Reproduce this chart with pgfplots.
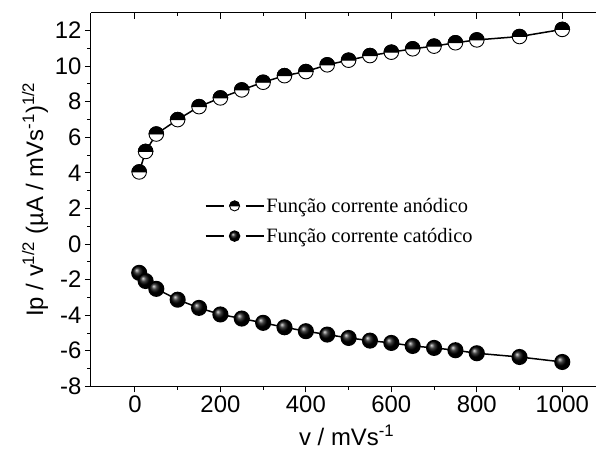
\documentclass[border=0pt]{standalone}
\usepackage{fontspec}
\setmainfont{Liberation Sans}
\newfontfamily\timesfont{Liberation Serif}
\usepackage{pgfplots}
\pgfplotsset{compat=1.18}
\usetikzlibrary{plotmarks}

\pgfdeclareplotmark{halftop}{%
  \pgfpathcircle{\pgfpointorigin}{\pgfplotmarksize}%
  \pgfsetfillcolor{white}\pgfusepathqfillstroke
  \pgfpathmoveto{\pgfqpoint{\pgfplotmarksize}{0pt}}%
  \pgfpatharc{0}{180}{\pgfplotmarksize}%
  \pgfpathclose
  \pgfsetfillcolor{black}\pgfusepathqfillstroke}

\pgfplotstableread{
x y
10 4.05
25 5.20
50 6.18
100 6.99
150 7.72
200 8.21
250 8.66
300 9.09
350 9.46
400 9.69
450 10.07
500 10.33
550 10.59
600 10.78
650 10.97
700 11.12
750 11.31
800 11.47
900 11.66
1000 12.06
}\anodic

\pgfplotstableread{
x y
10 -1.62
25 -2.08
50 -2.52
100 -3.13
150 -3.59
200 -3.96
250 -4.19
300 -4.43
350 -4.68
400 -4.90
450 -5.09
500 -5.28
550 -5.43
600 -5.56
650 -5.73
700 -5.84
750 -5.97
800 -6.14
900 -6.35
1000 -6.63
}\catodic

\begin{document}
\begin{tikzpicture}
\pgfplotsset{
  common/.style={
    scale only axis, width=506bp, height=374bp,
    xmin=-103, xmax=1080, ymin=-8, ymax=13,
    xtick={0,200,...,1000}, minor xtick={100,300,...,900},
    ytick={-8,-6,...,12}, minor ytick={-7,-5,...,11},
    axis line style={line width=1.1bp},
    major tick length=6bp, minor tick length=3.5bp,
    every tick/.style={line width=0.9bp, black},
  }
}
\begin{axis}[common,
  axis x line*=bottom, axis y line*=left,
  tick align=outside,
  /pgf/number format/assume math mode=true,
  /pgf/number format/1000 sep={},
  ticklabel style={font=\fontsize{24}{28}\selectfont},
  label style={font=\fontsize{24}{28}\selectfont},
  xlabel={v / mVs\textsuperscript{-1}},
  xlabel style={yshift=-5bp, xshift=3bp},
  ylabel={Ip / v\textsuperscript{1/2} (µA / mVs\textsuperscript{-1})\textsuperscript{1/2}},
  clip=false,
  legend style={at={(0.219,0.515)}, anchor=north west, draw=none, fill=none,
     font=\timesfont\fontsize{20.5}{24}\selectfont, row sep=10.5bp,
     /tikz/every even column/.append style={column sep=3bp}},
  legend cell align=left,
  legend image code/.code={%
     \draw[#1, line width=1.6bp, mark=none] (0bp,0bp) -- (18bp,0bp);
     \draw[#1, line width=1.6bp, mark=none] (40bp,0bp) -- (58bp,0bp);
     \path[#1, mark size=5bp] plot coordinates {(29bp,0bp)};},
]
\addplot[black, line width=1.5bp, mark=halftop, mark size=7.3bp,
   mark options={line width=0.9bp}] table {\anodic};
\addlegendentry{Função corrente anódico}
\addplot[black, line width=1.5bp, mark=ball, mark size=7.3bp,
   mark options={ball color=black}] table {\catodic};
\addlegendentry{Função corrente catódico}
\path (rel axis cs:0,0) ++(-91bp,-70.3bp);
\path (rel axis cs:1,1) ++(0bp,12.7bp);
\end{axis}
\begin{axis}[common,
  axis x line*=top, axis y line=none,
  tick align=inside, xticklabels={}, yticklabels={},
]
\end{axis}
\end{tikzpicture}
\end{document}
